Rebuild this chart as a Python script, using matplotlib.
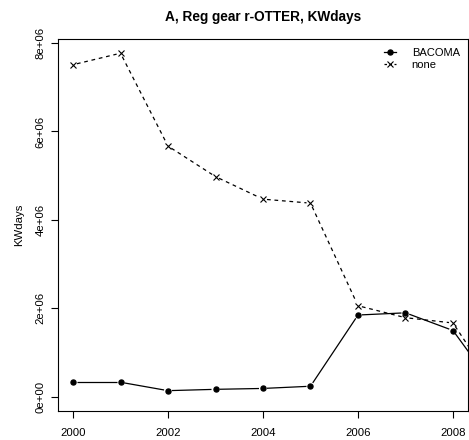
import numpy as np
import matplotlib
matplotlib.use("Agg")
import matplotlib.pyplot as plt

plt.rcParams['font.family'] = ['Liberation Sans', 'DejaVu Sans']

# KWdays per year for the r-OTTER gear, by regulation area
years = [2000, 2001, 2002, 2003, 2004, 2005, 2006, 2007, 2008, 2009]
bacoma = [0.33e6, 0.33e6, 0.14e6, 0.17e6, 0.19e6, 0.24e6, 1.85e6, 1.90e6, 1.50e6, 0.03e6]
none = [7.51e6, 7.77e6, 5.67e6, 4.98e6, 4.47e6, 4.38e6, 2.06e6, 1.79e6, 1.67e6, 0.05e6]
series_names = ['BACOMA', 'none']
xticks = [2000, 2002, 2004, 2006, 2008]
yticks = [0, 2e6, 4e6, 6e6, 8e6]
ytick_labels = ['0e+00', '2e+06', '4e+06', '6e+06', '8e+06']

fig = plt.figure(figsize=(4.69, 4.40), dpi=100)
ax = fig.add_axes([58 / 469, 1 - 411 / 440, 410 / 469, 371.5 / 440])
ax.set_xlim(1999.684, 2008.316)
ax.set_ylim(-0.32e6, 8.08e6)


def gapped_line(x, y, gap_px, **kw):
    # lines that stop short of each point, like R's type="b"
    pts = ax.transData.transform(np.column_stack([x, y]))
    inv = ax.transData.inverted()
    for p0, p1 in zip(pts[:-1], pts[1:]):
        d = p1 - p0
        n = np.hypot(*d)
        if n <= 2 * gap_px:
            continue
        u = d / n
        seg = inv.transform(np.array([p0 + u * gap_px, p1 - u * gap_px]))
        ax.plot(seg[:, 0], seg[:, 1], **kw)


gapped_line(years, bacoma, 4, color='black', lw=0.9, solid_capstyle='butt')
gapped_line(years, none, 4, color='black', lw=0.9, linestyle=(0, (3, 3)))
ax.plot(years, bacoma, linestyle='none', marker='o', ms=3.6, color='black')
ax.plot(years, none, linestyle='none', marker='x', ms=4.2, mew=0.8, color='black')

# legend handles
h1, = ax.plot([], [], color='black', lw=0.9, marker='o', ms=3.6)
h2, = ax.plot([], [], color='black', lw=0.9, linestyle=(0, (2, 2)), marker='x', ms=4.2, mew=0.8)
ax.legend([h1, h2], series_names, loc='upper right', frameon=False, fontsize=8,
          handlelength=1.1, handletextpad=1.4, labelspacing=0.22,
          borderaxespad=0.3, borderpad=0.45)

ax.set_xticks(xticks)
ax.set_yticks(yticks)
ax.set_yticklabels(ytick_labels, rotation=90, va='center')
ax.tick_params(direction='out', length=5, width=0.8, labelsize=8.2)
ax.tick_params(axis='x', pad=7)
ax.tick_params(axis='y', pad=4)
for s in ax.spines.values():
    s.set_linewidth(0.8)

ax.set_ylabel('KWdays', fontsize=8.2, labelpad=8)
ax.set_title('A, Reg gear r-OTTER, KWdays', fontsize=9.8, fontweight='bold', pad=13)

fig.savefig('out.png', dpi=100)
